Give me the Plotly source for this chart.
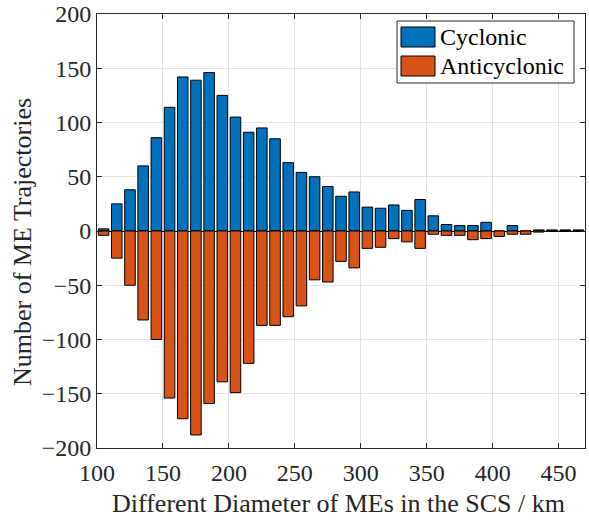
import plotly.graph_objects as go

# Bin centres (km) and counts
diameters = [105, 115, 125, 135, 145, 155, 165, 175, 185, 195,
             205, 215, 225, 235, 245, 255, 265, 275, 285, 295,
             305, 315, 325, 335, 345, 355, 365, 375, 385, 395,
             405, 415, 425, 435, 445, 455, 465]
cyclonic = [2, 25, 38, 60, 86, 114, 142, 139, 146, 125,
            105, 91, 95, 85, 63, 54, 50, 41, 32, 36,
            22, 21, 24, 19, 29, 14, 6, 5, 5, 8,
            0, 5, 0, 1, 1, 1, 1]
anticyclonic = [-4, -25, -50, -82, -100, -154, -173, -188, -159, -139,
                -149, -122, -87, -87, -79, -69, -45, -47, -28, -34,
                -16, -15, -7, -10, -16, -3, -4, -4, -8, -7,
                -5, -3, -3, -1, 0, 0, 0]
x_ticks = [100, 150, 200, 250, 300, 350, 400, 450]
y_ticks = [-200, -150, -100, -50, 0, 50, 100, 150, 200]
series_names = ["Cyclonic", "Anticyclonic"]
colors = ["#0072BD", "#D95319"]
x_title = "Different Diameter of MEs in the SCS / km"
y_title = "Number of ME Trajectories"

FONT = "Liberation Serif, Times New Roman, serif"
TXT = "#262626"

fig = go.Figure()
fig.add_trace(go.Bar(x=diameters, y=cyclonic, name=series_names[0], width=8,
                     marker=dict(color=colors[0], line=dict(color="#000000", width=1)),
                     showlegend=False))
fig.add_trace(go.Bar(x=diameters, y=anticyclonic, name=series_names[1], width=8,
                     marker=dict(color=colors[1], line=dict(color="#000000", width=1)),
                     showlegend=False))

axis_common = dict(
    showline=True, linecolor=TXT, linewidth=1, mirror="ticks",
    ticks="inside", ticklen=5, tickcolor=TXT,
    showgrid=True, gridcolor="#e3e3e3", gridwidth=1,
    tickfont=dict(family=FONT, size=24, color=TXT),
    ticklabeloverflow="allow", automargin=False,
)

TOP, BOT = 14, 448
fig.update_layout(
    width=589, height=520,
    margin=dict(l=97, r=4, t=TOP, b=520 - BOT, autoexpand=False),
    paper_bgcolor="white", plot_bgcolor="white",
    barmode="overlay",
    font=dict(family=FONT, color=TXT),
    xaxis=dict(range=[100, 470], tickvals=x_ticks, zeroline=False,
               ticklabelstandoff=3, **axis_common),
    yaxis=dict(range=[-200, 200], tickvals=y_ticks,
               zeroline=True, zerolinecolor="#000000", zerolinewidth=1,
               **axis_common),
)

W, H = 488.0, float(BOT - TOP)
def px(xp):
    return (xp - 97) / W
def py(yp):
    return (BOT - yp) / H

# Axis titles
fig.add_annotation(xref="paper", yref="paper", x=px(338), y=py(503),
                   xanchor="center", yanchor="middle", showarrow=False,
                   text=x_title, font=dict(family=FONT, size=26, color=TXT))
fig.add_annotation(xref="paper", yref="paper", x=px(23), y=py(242),
                   xanchor="center", yanchor="middle", showarrow=False, textangle=-90,
                   text=y_title, font=dict(family=FONT, size=26, color=TXT))

# Custom legend (box, swatches, labels)
fig.add_shape(type="rect", xref="paper", yref="paper",
              x0=px(397), x1=px(574), y0=py(83), y1=py(21),
              line=dict(color=TXT, width=1), fillcolor="white", layer="above")
swatch_rows = [(27, 47), (56, 76)]
for (top, bot), c, name in zip(swatch_rows, colors, series_names):
    fig.add_shape(type="rect", xref="paper", yref="paper",
                  x0=px(401), x1=px(435), y0=py(bot), y1=py(top),
                  line=dict(color="#000000", width=1), fillcolor=c, layer="above")
    fig.add_annotation(xref="paper", yref="paper", x=px(438), y=py((top + bot) / 2),
                       xanchor="left", yanchor="middle", showarrow=False,
                       text=name, font=dict(family=FONT, size=24, color="#000000"))

fig.write_html("out.html")
